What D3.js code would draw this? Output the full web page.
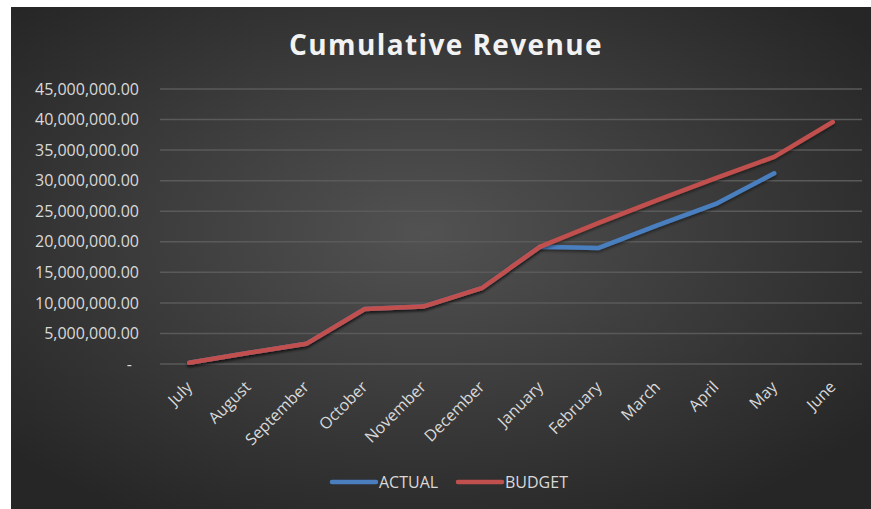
<!DOCTYPE html>
<html>
<head>
<meta charset="utf-8">
<script src="https://cdn.jsdelivr.net/npm/d3@7"></script>
<style>
  body { margin: 0; background: #fff; }
  svg { display: block; }
</style>
</head>
<body>
<svg id="chart" width="871" height="509"></svg>
<script>
// chart data
const months = ["July", "August", "September", "October", "November", "December",
  "January", "February", "March", "April", "May", "June"];
const actual = [200000, 1800000, 3300000, 9000000, 9400000, 12400000,
  19200000, 19000000, 22700000, 26200000, 31200000];
const budget = [200000, 1800000, 3300000, 9000000, 9400000, 12400000,
  19200000, 23100000, 26800000, 30400000, 33900000, 39600000];
const yTicks = [0, 5000000, 10000000, 15000000, 20000000, 25000000, 30000000, 35000000, 40000000, 45000000];
const seriesNames = ["ACTUAL", "BUDGET"];
const seriesColors = ["#4a7ebf", "#c0504d"];

const svg = d3.select("#chart");
const defs = svg.append("defs");

// dark radial background like the excel style
const grad = defs.append("radialGradient").attr("id", "bg")
  .attr("cx", "48%").attr("cy", "45%").attr("r", "65%");
grad.append("stop").attr("offset", "0%").attr("stop-color", "#525252");
grad.append("stop").attr("offset", "100%").attr("stop-color", "#262626");

const shadow = defs.append("filter").attr("id", "shadow")
  .attr("x", "-10%").attr("y", "-10%").attr("width", "120%").attr("height", "130%");
shadow.append("feDropShadow").attr("dx", 0).attr("dy", 2).attr("stdDeviation", 1.5)
  .attr("flood-color", "#000").attr("flood-opacity", 0.45);

svg.append("rect")
  .attr("x", 11).attr("y", 7).attr("width", 860).attr("height", 502)
  .attr("fill", "url(#bg)");

const margin = { left: 160, right: 862, top: 89, bottom: 364 };

const x = d3.scaleBand().domain(months).range([margin.left, margin.right]);
const y = d3.scaleLinear().domain([0, 45000000]).range([margin.bottom, margin.top]);

// title
svg.append("text")
  .attr("x", 446).attr("y", 55)
  .attr("text-anchor", "middle")
  .attr("fill", "#f2f2f2")
  .style("font-family", "'Open Sans', sans-serif")
  .style("font-size", "28px")
  .style("font-weight", "bold")
  .style("letter-spacing", "1.4px")
  .text("Cumulative Revenue");

// gridlines
svg.append("g").selectAll("line")
  .data(yTicks)
  .enter()
  .append("line")
  .attr("x1", margin.left).attr("x2", margin.right)
  .attr("y1", d => y(d)).attr("y2", d => y(d))
  .attr("stroke", "#5a5a5a")
  .attr("stroke-width", 1.5);

// y axis labels
const fmt = d3.format(",.2f");
const yAxis = svg.append("g")
  .attr("transform", `translate(${margin.left - 21},0)`)
  .call(d3.axisLeft(y).tickValues(yTicks).tickSize(0).tickPadding(0)
    .tickFormat(d => d === 0 ? "-" : fmt(d)));
yAxis.select(".domain").remove();
yAxis.selectAll("text")
  .attr("fill", "#d9d9d9")
  .style("font-family", "'Open Sans', sans-serif")
  .style("font-size", "16px");
yAxis.selectAll(".tick").filter(d => d === 0).select("text").attr("dx", "-7px");

// x axis labels (rotated)
const xAxis = svg.append("g")
  .attr("transform", `translate(0,${margin.bottom})`)
  .call(d3.axisBottom(x).tickSize(0).tickPadding(0));
xAxis.select(".domain").remove();
xAxis.selectAll("text")
  .attr("fill", "#d9d9d9")
  .style("font-family", "'Open Sans', sans-serif")
  .style("font-size", "16px")
  .attr("text-anchor", "end")
  .attr("dy", "0.35em")
  .attr("transform", "translate(0,20) rotate(-45)");

// lines
const line = d3.line()
  .x((d, i) => x(months[i]) + x.bandwidth() / 2)
  .y(d => y(d));

const series = [actual, budget];
svg.append("g").selectAll("path")
  .data(series)
  .enter()
  .append("path")
  .attr("d", d => line(d))
  .attr("fill", "none")
  .attr("stroke", (d, i) => seriesColors[i])
  .attr("stroke-width", 4.5)
  .attr("stroke-linecap", "round")
  .attr("stroke-linejoin", "round")
  .attr("filter", "url(#shadow)");

// legend
const legendX = [332, 458];
const legend = svg.append("g").selectAll("g")
  .data(seriesNames)
  .enter()
  .append("g")
  .attr("transform", (d, i) => `translate(${legendX[i]},482)`);
legend.append("line")
  .attr("x1", 0).attr("x2", 44)
  .attr("stroke", (d, i) => seriesColors[i])
  .attr("stroke-width", 4.5)
  .attr("stroke-linecap", "round");
legend.append("text")
  .attr("x", 47).attr("dy", "0.35em")
  .attr("fill", "#d9d9d9")
  .style("font-family", "'Open Sans', sans-serif")
  .style("font-size", "16px")
  .text(d => d);
</script>
</body>
</html>
